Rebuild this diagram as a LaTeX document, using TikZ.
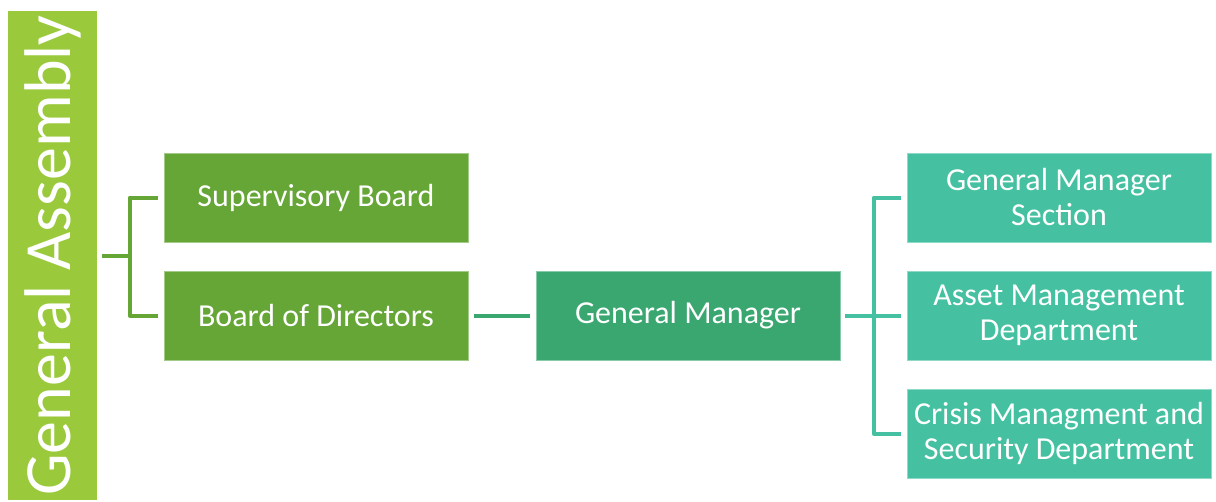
\documentclass[tikz,border=0pt]{standalone}
\usepackage{fontspec}
\setmainfont{Carlito}
\definecolor{gacol}{HTML}{9ACA3C}
\definecolor{lcol}{HTML}{65A637}
\definecolor{mcol}{HTML}{3AA771}
\definecolor{rcol}{HTML}{45C1A2}
\begin{document}
\begin{tikzpicture}[x=1pt,y=-1pt,
  box/.style={rectangle, minimum width=304pt, minimum height=89pt, inner sep=0pt,
    text=white, align=center, font=\fontsize{32}{35}\selectfont, line width=0.8pt},
  conn/.style={line width=4pt, line join=round}]
\useasboundingbox (0,0) rectangle (1216,501);
\node[fill=gacol, minimum width=89pt, minimum height=489pt, inner sep=0pt] (ga) at (52.5,255.5) {};
\node[text=white, rotate=90, font=\fontsize{66}{70}\selectfont, inner sep=0pt] (gat) at (ga.center) {General Assembly};
\node[box, fill=lcol, draw=lcol!60!white] (sb) at (316,197.5) {Supervisory Board};
\node[box, fill=lcol, draw=lcol!60!white] (bod) at (316,315.5) {Board of Directors};
\node[box, fill=mcol, draw=mcol!60!white] (gm) at (688,315.5) {General Manager};
\node[box, fill=rcol, draw=rcol!60!white] (gms) at (1059,197.5) {General Manager\\Section};
\node[box, fill=rcol, draw=rcol!60!white] (am) at (1059,315.5) {Asset Management\\Department};
\node[box, fill=rcol, draw=rcol!60!white] (cm) at (1059,433.5) {Crisis Managment and\\Security Department};
\draw[conn, lcol] ([xshift=5]ga.east) -- ++(28,0);
\draw[conn, lcol] ([xshift=-6]sb.west) -| ([xshift=-34]bod.west) -- ([xshift=-6]bod.west);
\draw[conn, mcol] ([xshift=6]bod.east) -- ([xshift=-6]gm.west);
\draw[conn, rcol] ([xshift=5]gm.east) -- ([xshift=-6]am.west);
\draw[conn, rcol] ([xshift=-6]gms.west) -| ([xshift=-33]cm.west) -- ([xshift=-6]cm.west);
\end{tikzpicture}
\end{document}
